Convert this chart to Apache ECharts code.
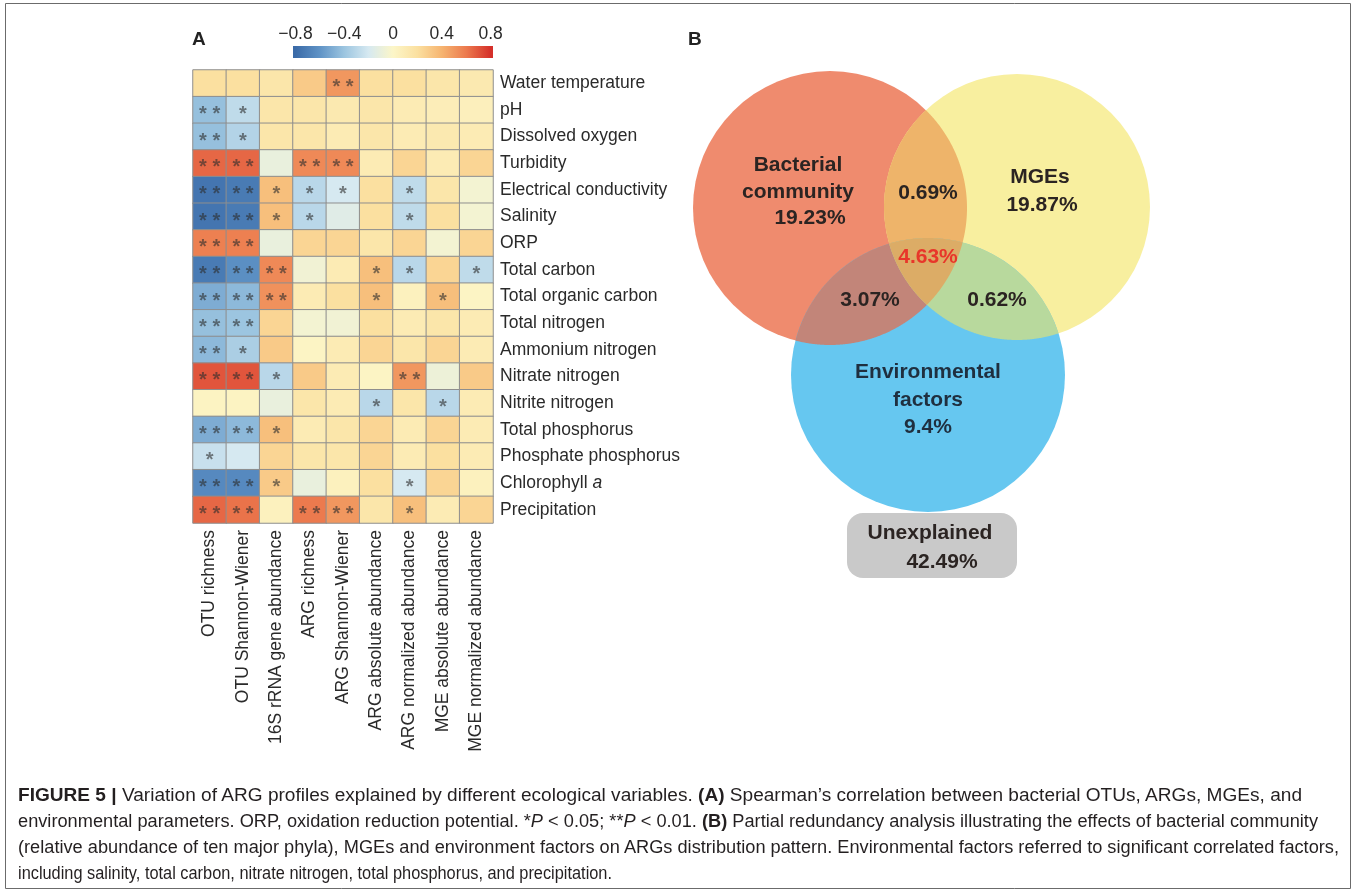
<!DOCTYPE html>
<html>
<head>
<meta charset="utf-8">
<script src="https://cdn.jsdelivr.net/npm/echarts@6/dist/echarts.min.js"></script>
<style>
html,body{margin:0;padding:0;background:#fff;}
#chart{position:absolute;left:0;top:0;width:1357px;height:895px;}
#caption{position:absolute;left:18px;top:782px;font-family:'Liberation Sans',Arial,sans-serif;font-size:17.5px;line-height:26px;color:#231f20;}
#caption div{white-space:nowrap;transform-origin:0 0;display:block;width:max-content;}
</style>
</head>
<body>
<div id="chart"></div>
<div id="caption">
<div class="ln" data-w="1284"><b>FIGURE 5 |</b> Variation of ARG profiles explained by different ecological variables. <b>(A)</b> Spearman’s correlation between bacterial OTUs, ARGs, MGEs, and</div>
<div class="ln" data-w="1300">environmental parameters. ORP, oxidation reduction potential. *<i>P</i> &lt; 0.05; **<i>P</i> &lt; 0.01. <b>(B)</b> Partial redundancy analysis illustrating the effects of bacterial community</div>
<div class="ln" data-w="1321">(relative abundance of ten major phyla), MGEs and environment factors on ARGs distribution pattern. Environmental factors referred to significant correlated factors,</div>
<div class="ln" data-w="594">including salinity, total carbon, nitrate nitrogen, total phosphorus, and precipitation.</div>
</div>
<script>
// ---------------- DATA ----------------
const columns = ['OTU richness','OTU Shannon-Wiener','16S rRNA gene abundance','ARG richness','ARG Shannon-Wiener','ARG absolute abundance','ARG normalized abundance','MGE absolute abundance','MGE normalized abundance'];
const variables = ['Water temperature','pH','Dissolved oxygen','Turbidity','Electrical conductivity','Salinity','ORP','Total carbon','Total organic carbon','Total nitrogen','Ammonium nitrogen','Nitrate nitrogen','Nitrite nitrogen','Total phosphorus','Phosphate phosphorus','Chlorophyll a','Precipitation'];
// Spearman rho, one row per variable, columns in order above
const rho = [
  [ 0.20, 0.20, 0.15, 0.30, 0.50, 0.20, 0.20, 0.15, 0.12],
  [-0.42,-0.28, 0.15, 0.15, 0.12, 0.15, 0.10, 0.08, 0.06],
  [-0.42,-0.32, 0.15, 0.15, 0.10, 0.15, 0.10, 0.12, 0.10],
  [ 0.65, 0.65,-0.10, 0.55, 0.55, 0.10, 0.25, 0.10, 0.25],
  [-0.75,-0.72, 0.35,-0.30,-0.20, 0.20,-0.28, 0.15,-0.05],
  [-0.75,-0.72, 0.35,-0.30,-0.15, 0.20,-0.28, 0.20,-0.05],
  [ 0.58, 0.58,-0.10, 0.25, 0.25, 0.15, 0.25,-0.05, 0.25],
  [-0.72,-0.62, 0.55,-0.06, 0.10, 0.35,-0.30, 0.25,-0.28],
  [-0.50,-0.45, 0.52, 0.10, 0.20, 0.35, 0.05, 0.35, 0.02],
  [-0.42,-0.40, 0.25,-0.05,-0.06, 0.20, 0.10, 0.15, 0.10],
  [-0.45,-0.35, 0.30, 0.02, 0.10, 0.25, 0.15, 0.25, 0.10],
  [ 0.70, 0.70,-0.30, 0.30, 0.10, 0.02, 0.50,-0.08, 0.30],
  [ 0.03, 0.03,-0.10, 0.15, 0.10,-0.30, 0.15,-0.30, 0.10],
  [-0.50,-0.45, 0.35, 0.10, 0.15, 0.25, 0.10, 0.25, 0.10],
  [-0.25,-0.20, 0.25, 0.15, 0.15, 0.25, 0.10, 0.20, 0.10],
  [-0.65,-0.65, 0.30,-0.10, 0.05, 0.20,-0.20, 0.25, 0.05],
  [ 0.65, 0.62, 0.05, 0.60, 0.50, 0.15, 0.35, 0.10, 0.25]
];
// significance: 0 none, 1 = P<0.05, 2 = P<0.01
const sig = [
  [0,0,0,0,2,0,0,0,0],
  [2,1,0,0,0,0,0,0,0],
  [2,1,0,0,0,0,0,0,0],
  [2,2,0,2,2,0,0,0,0],
  [2,2,1,1,1,0,1,0,0],
  [2,2,1,1,0,0,1,0,0],
  [2,2,0,0,0,0,0,0,0],
  [2,2,2,0,0,1,1,0,1],
  [2,2,2,0,0,1,0,1,0],
  [2,2,0,0,0,0,0,0,0],
  [2,1,0,0,0,0,0,0,0],
  [2,2,1,0,0,0,2,0,0],
  [0,0,0,0,0,1,0,1,0],
  [2,2,1,0,0,0,0,0,0],
  [1,0,0,0,0,0,0,0,0],
  [2,2,1,0,0,0,1,0,0],
  [2,2,0,2,2,0,1,0,0]
];
const colorbarTicks = [-0.8,-0.4,0,0.4,0.8];
// Partial RDA variance fractions (%)
const vennBacterial = 19.23;
const vennMGEs = 19.87;
const vennEnv = 9.4;
const vennBacMGE = 0.69;
const vennBacEnv = 3.07;
const vennMGEEnv = 0.62;
const vennAll = 4.63;
const vennUnexplained = 42.49;

// ---------------- STYLE / LAYOUT ----------------
const palette = ['#3b6ba8','#5f93c6','#9cc5e0','#d6e9f1','#fcf6c8','#fbe0a0','#f6b470','#ec7a4e','#d5302a'];
const vmMin = -0.8, vmMax = 0.8;
const FONT = "'Liberation Sans', Arial, sans-serif";
const txtColor = '#2a2a2a';
// venn geometry (venn-grid units)
const vennCircles = [
  {cx:150, cy:168, r:137, color:'#ef8b6e'},
  {cx:337, cy:167, r:133, color:'#f8ef9f'},
  {cx:248, cy:335, r:137, color:'#66c7f0'}
];
const vennOverlapColors = {'0,1':'#eeb46a','0,2':'#c28579','1,2':'#b8d99d','0,1,2':'#dcac66'};

const heatData = [];
rho.forEach((row, ri) => row.forEach((v, ci) => heatData.push([ci, ri, v, sig[ri][ci]])));

function pct(v){ return String(v) + '%'; }

function regionPoly(circ, idxs){
  const pts = [];
  idxs.forEach(i => {
    const c = circ[i];
    for (let k = 0; k < 1440; k++) {
      const a = k / 1440 * Math.PI * 2;
      const x = c.cx + c.r * Math.cos(a), y = c.cy + c.r * Math.sin(a);
      let ok = true;
      idxs.forEach(j => { if (j !== i) { const d = Math.hypot(x - circ[j].cx, y - circ[j].cy); if (d > circ[j].r + 0.01) ok = false; } });
      if (ok) pts.push([x, y]);
    }
  });
  let mx = 0, my = 0; pts.forEach(p => { mx += p[0]; my += p[1]; }); mx /= pts.length; my /= pts.length;
  pts.sort((a, b) => Math.atan2(a[1]-my, a[0]-mx) - Math.atan2(b[1]-my, b[0]-mx));
  return pts;
}

const chart = echarts.init(document.getElementById('chart'), null, {renderer:'canvas'});

const boldTxt = (text, x, y, color, size) => ({
  type:'text', x:x, y:y, z:100,
  style:{text:text, fill:color || '#2b2422', font:'bold ' + (size || 21) + 'px ' + FONT, textAlign:'center', textVerticalAlign:'middle'}
});

const option = {
  animation:false,
  backgroundColor:'#ffffff',
  grid:[
    {left:193, top:70, width:300, height:453},
    {left:293, top:46, width:200, height:12},
    {left:680, top:40, width:480, height:560}
  ],
  xAxis:[
    {gridIndex:0, type:'category', data:columns, position:'bottom',
     axisLine:{show:false}, axisTick:{show:false}, splitLine:{show:false},
     axisLabel:{rotate:90, margin:7, fontSize:17.5, fontFamily:FONT, color:txtColor, interval:0}},
    {gridIndex:1, type:'value', min:-0.82, max:0.82, position:'top',
     axisLine:{show:false}, axisTick:{show:false}, splitLine:{show:false},
     axisLabel:{customValues:colorbarTicks, margin:3, fontSize:17.5, fontFamily:FONT, color:txtColor,
       formatter: v => v < 0 ? '\u2212' + Math.abs(v) : String(v)}},
    {gridIndex:2, type:'value', min:0, max:480, show:false}
  ],
  yAxis:[
    {gridIndex:0, type:'category', data:variables, inverse:true, position:'right',
     axisLine:{show:false}, axisTick:{show:false}, splitLine:{show:false},
     axisLabel:{margin:7, fontSize:17.5, fontFamily:FONT, color:txtColor, interval:0, align:'left',
       formatter: v => v === 'Chlorophyll a' ? '{t|Chlorophyll }{i|a}' : '{t|' + v + '}',
       rich:{t:{fontSize:17.5, fontFamily:FONT, color:txtColor}, i:{fontSize:17.5, fontFamily:FONT, color:txtColor, fontStyle:'italic'}}}},
    {gridIndex:1, type:'value', min:0, max:1, show:false},
    {gridIndex:2, type:'value', min:0, max:560, inverse:true, show:false}
  ],
  visualMap:{show:false, type:'continuous', min:vmMin, max:vmMax, dimension:2, seriesIndex:0, inRange:{color:palette}},
  series:[
    {type:'heatmap', xAxisIndex:0, yAxisIndex:0, data:heatData,
     itemStyle:{borderColor:'#8e8e8e', borderWidth:1},
     label:{show:true, formatter: p => ['', '*', '* *'][p.data[3]], fontSize:20, fontWeight:'bold', fontFamily:FONT,
       color:'rgba(45,45,45,0.6)', offset:[0,4.5]},
     emphasis:{disabled:true}},
    {type:'custom', xAxisIndex:1, yAxisIndex:1, data:[[-0.82, 0.82]], silent:true,
     renderItem:(params, api) => {
       const p0 = api.coord([api.value(0), 1]);
       const p1 = api.coord([api.value(1), 0]);
       const span = vmMax - vmMin, lo = api.value(0), hi = api.value(1);
       const stops = palette.map((c, i) => {
         const v = vmMin + span * i / (palette.length - 1);
         return {offset: Math.min(1, Math.max(0, (v - lo) / (hi - lo))), color:c};
       });
       return {type:'rect', shape:{x:p0[0], y:p0[1], width:p1[0]-p0[0], height:p1[1]-p0[1]},
         style:{fill:{type:'linear', x:0, y:0, x2:1, y2:0, colorStops:stops}}};
     }},
    {type:'custom', xAxisIndex:2, yAxisIndex:2, data:[[0,0]], silent:true, clip:false,
     renderItem:(params, api) => {
       const px = vennCircles.map(c => {
         const p = api.coord([c.cx, c.cy]);
         const r = api.size([c.r, 0])[0];
         return {cx:p[0], cy:p[1], r:r, color:c.color};
       });
       const children = px.map(c => ({type:'circle', shape:{cx:c.cx, cy:c.cy, r:c.r}, style:{fill:c.color}}));
       Object.keys(vennOverlapColors).forEach(key => {
         const idxs = key.split(',').map(Number);
         children.push({type:'polygon', shape:{points:regionPoly(px, idxs)}, style:{fill:vennOverlapColors[key]}});
       });
       return {type:'group', children:children};
     }}
  ],
  graphic:[
    {type:'rect', shape:{x:5.5, y:3.5, width:1345, height:885}, style:{fill:'none', stroke:'#6b6b6b', lineWidth:1}, z:0},
    {type:'text', x:192, y:40, style:{text:'A', fill:'#222', font:'bold 19px ' + FONT, textVerticalAlign:'middle'}},
    {type:'text', x:688, y:40, style:{text:'B', fill:'#222', font:'bold 19px ' + FONT, textVerticalAlign:'middle'}},
    boldTxt('Bacterial', 798, 165),
    boldTxt('community', 798, 192),
    boldTxt(pct(vennBacterial), 810, 218),
    boldTxt(pct(vennBacMGE), 928, 193),
    boldTxt('MGEs', 1040, 177),
    boldTxt(pct(vennMGEs), 1042, 205),
    boldTxt(pct(vennAll), 928, 257, '#e8362a'),
    boldTxt(pct(vennBacEnv), 870, 300),
    boldTxt(pct(vennMGEEnv), 997, 300),
    boldTxt('Environmental', 928, 372, '#1f2f3f'),
    boldTxt('factors', 928, 400, '#1f2f3f'),
    boldTxt(pct(vennEnv), 928, 427, '#1f2f3f'),
    {type:'rect', shape:{x:847, y:513, width:170, height:65, r:16}, style:{fill:'#c9c9c9'}, z:90},
    boldTxt('Unexplained', 930, 533),
    boldTxt(pct(vennUnexplained), 942, 562)
  ]
};
chart.setOption(option);

// fit each caption line to the width it takes in the condensed journal typeface
document.querySelectorAll('#caption .ln').forEach(d => {
  const w = d.getBoundingClientRect().width;
  d.style.transform = 'scaleX(' + (parseFloat(d.dataset.w) / w) + ')';
});
</script>
</body>
</html>
